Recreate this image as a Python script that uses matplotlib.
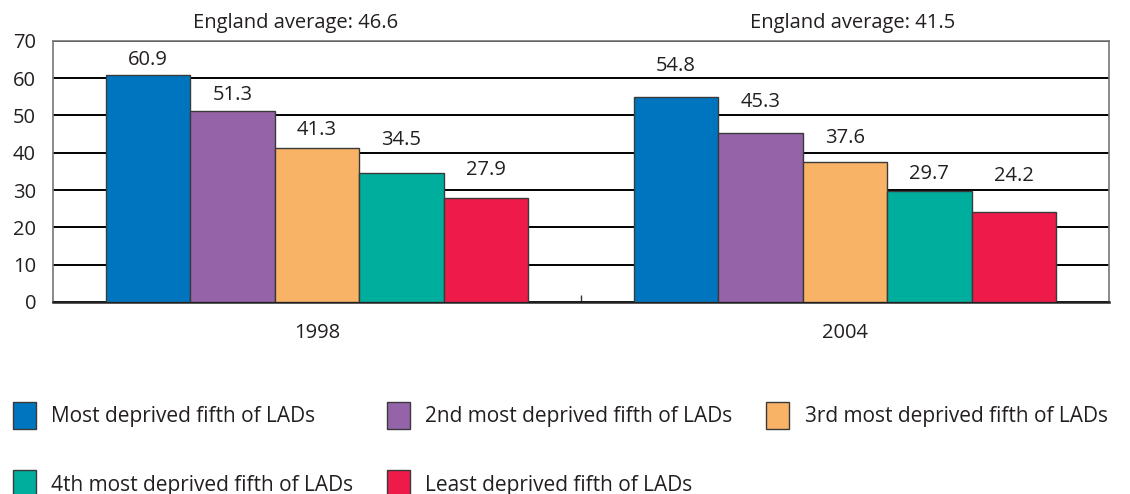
import numpy as np
import matplotlib.pyplot as plt
from matplotlib.ticker import FixedLocator
from matplotlib.patches import Patch

plt.rcParams['font.family'] = ['Open Sans', 'DejaVu Sans']

years = ['1998', '2004']
england_avg = [46.6, 41.5]
series = ['Most deprived fifth of LADs', '2nd most deprived fifth of LADs',
          '3rd most deprived fifth of LADs', '4th most deprived fifth of LADs',
          'Least deprived fifth of LADs']
values = [[60.9, 54.8], [51.3, 45.3], [41.3, 37.6], [34.5, 29.7], [27.9, 24.2]]
colors = ['#0075BF', '#9563A8', '#F8B366', '#00AE9D', '#EE1A4A']
# height of each value label above its bar (data units), per series/year
label_pad = [[3.8, 8.5], [4.2, 8.2], [4.7, 6.3], [9.0, 4.7], [7.4, 9.5]]

txt = '#231F20'
fig = plt.figure(figsize=(11.3, 4.94), dpi=100)
ax = fig.add_axes([0.0467, 0.3887, 0.9347, 0.5289])

x = np.arange(len(years))
w = 0.16
handles = []
for i, (name, vals) in enumerate(zip(series, values)):
    xs = x + (i - 2) * w
    ax.bar(xs, vals, width=w, color=colors[i], edgecolor='#3a3a3a',
           linewidth=1.0, zorder=3)
    for xi, v, p in zip(xs, vals, label_pad[i]):
        ax.text(xi, v + p, f'{v:.1f}', ha='center', va='center',
                fontsize=14.5, color=txt)
    handles.append(Patch(facecolor=colors[i], edgecolor='#3a3a3a', linewidth=1.0,
                         label=name))

avg_shift = [-0.04, 0.015]
for xi, a, s in zip(x, england_avg, avg_shift):
    ax.text(xi + s, 74.8, f'England average: {a}', ha='center', va='center',
            fontsize=14.5, color=txt, clip_on=False)

ax.set_xlim(-0.5, 1.5)
ax.set_ylim(0, 70)
ax.set_yticks(np.arange(0, 71, 10))
ax.set_xticks(x)
ax.set_xticklabels(years)
ax.xaxis.set_minor_locator(FixedLocator([0.5]))
ax.tick_params(axis='x', which='major', length=0, pad=15, labelsize=14.5,
               labelcolor=txt)
ax.tick_params(axis='x', which='minor', direction='in', length=5, width=1,
               color='#333333')
ax.tick_params(axis='y', length=0, pad=12, labelsize=14.5, labelcolor=txt)
ax.yaxis.grid(True, color='black', linewidth=1.4, zorder=0)
ax.set_axisbelow(True)
for s in ['top', 'right', 'left']:
    ax.spines[s].set_color('#777777')
    ax.spines[s].set_linewidth(1.2)
ax.spines['bottom'].set_color('#222222')
ax.spines['bottom'].set_linewidth(1.8)

# legend is filled column by column; reorder so it reads row by row
order = [0, 3, 1, 4, 2]
leg = fig.legend(handles=[handles[k] for k in order], loc='upper left',
                 bbox_to_anchor=(0.004, 0.203), ncol=3, frameon=False,
                 fontsize=15, handlelength=1.1, handleheight=1.6,
                 handletextpad=0.75, columnspacing=1.6, labelspacing=2.0,
                 borderaxespad=0)
for t in leg.get_texts():
    t.set_color(txt)

fig.savefig('out.png', dpi=100)
